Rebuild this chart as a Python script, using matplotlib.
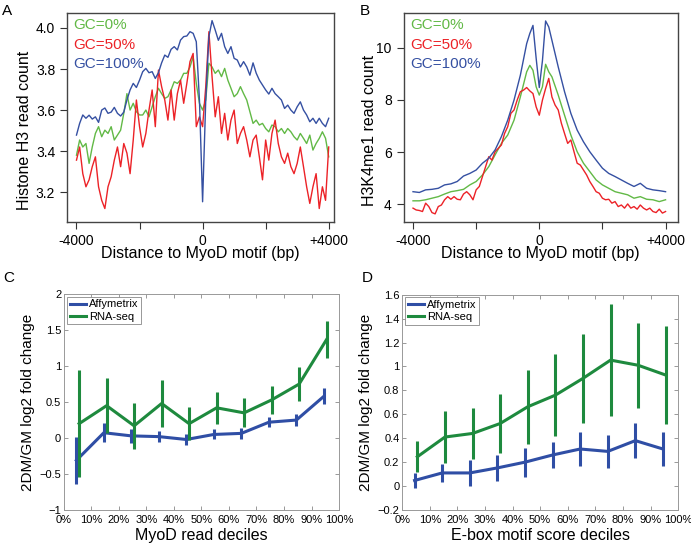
import numpy as np
import matplotlib
matplotlib.use("Agg")
import matplotlib.pyplot as plt

plt.rcParams["font.family"] = ["Liberation Sans", "DejaVu Sans"]

# ---- panel A: histone H3 profile around MyoD motif (bp, 100 bp steps) ----
pos_a = np.arange(-4000, 4001, 100)
h3_gc0 = [3.38, 3.454, 3.42, 3.437, 3.34, 3.42, 3.486, 3.519, 3.47, 3.502, 3.486, 3.519, 3.454, 3.478,
          3.502, 3.584, 3.68, 3.6, 3.633, 3.592, 3.576, 3.576, 3.6, 3.567, 3.616, 3.665, 3.706, 3.68,
          3.657, 3.665, 3.698, 3.738, 3.73, 3.746, 3.779, 3.779, 3.81, 3.86,
          3.73, 3.633, 3.6, 3.649, 3.828, 3.81,
          3.779, 3.795, 3.763, 3.803, 3.746, 3.706, 3.665, 3.68, 3.714, 3.68, 3.649, 3.592, 3.535,
          3.551, 3.527, 3.535, 3.51, 3.494, 3.527, 3.519, 3.494, 3.51, 3.486, 3.51, 3.494, 3.47,
          3.454, 3.486, 3.462, 3.437, 3.478, 3.405, 3.437, 3.462, 3.494, 3.462, 3.372]
h3_gc50 = [3.356, 3.42, 3.29, 3.226, 3.26, 3.324, 3.372, 3.226, 3.16, 3.12, 3.226, 3.275, 3.356, 3.42,
           3.324, 3.437, 3.39, 3.29, 3.454, 3.649, 3.519, 3.42, 3.486, 3.6, 3.698, 3.519, 3.795, 3.714,
           3.649, 3.551, 3.698, 3.551, 3.68, 3.746, 3.633, 3.73, 3.836, 3.876,
           3.519, 3.567, 3.519, 3.714, 3.982, 3.763,
           3.567, 3.665, 3.486, 3.584, 3.454, 3.551, 3.6, 3.437, 3.486, 3.519, 3.454, 3.372, 3.454,
           3.478, 3.372, 3.26, 3.454, 3.356, 3.486, 3.551, 3.437, 3.372, 3.34, 3.39, 3.324, 3.29,
           3.34, 3.42, 3.324, 3.226, 3.145, 3.226, 3.29, 3.12, 3.226, 3.16, 3.42]
h3_gc100 = [3.478, 3.535, 3.576, 3.56, 3.575, 3.556, 3.567, 3.54, 3.60, 3.61, 3.584, 3.59, 3.613, 3.584,
            3.571, 3.59, 3.649, 3.698, 3.73, 3.71, 3.746, 3.787, 3.803, 3.782, 3.787, 3.754, 3.782,
            3.83, 3.868, 3.857, 3.896, 3.909, 3.893, 3.941, 3.958, 3.961, 3.982, 3.974,
            3.933, 3.649, 3.153, 3.649, 3.958, 4.036,
            3.99, 3.94, 3.974, 3.909, 3.876, 3.909, 3.852, 3.844, 3.81, 3.836, 3.81, 3.77, 3.83,
            3.78, 3.746, 3.722, 3.698, 3.678, 3.706, 3.68, 3.665, 3.649, 3.608, 3.624, 3.6, 3.584,
            3.616, 3.64, 3.6, 3.576, 3.543, 3.56, 3.535, 3.56, 3.535, 3.519, 3.56]

# ---- panel B: H3K4me1 profile ----
pos_b = [-4000, -3800, -3600, -3400, -3200, -3000, -2800, -2600, -2400, -2200, -2000, -1800, -1600,
         -1400, -1200, -1000, -800, -600, -400, -300, -200, -100, 0, 100, 200, 300, 400, 600, 800,
         1000, 1200, 1400, 1600, 1800, 2000, 2200, 2400, 2600, 2800, 3000, 3200, 3400, 3600, 3800, 4000]
k4_gc0 = [4.13, 4.13, 4.17, 4.23, 4.29, 4.39, 4.48, 4.52, 4.57, 4.74, 4.87, 5.12, 5.44, 5.89, 6.33,
          6.65, 7.22, 8.11, 9.07, 9.32, 9.13, 8.50, 8.18, 8.50, 9.36, 9.07, 8.88, 8.18, 7.41, 6.65,
          6.01, 5.57, 5.25, 4.93, 4.74, 4.61, 4.48, 4.42, 4.36, 4.23, 4.29, 4.19, 4.17, 4.10, 4.17]
k4_gc100 = [4.48, 4.45, 4.55, 4.57, 4.61, 4.74, 4.78, 4.87, 5.08, 5.18, 5.31, 5.57, 5.76, 6.08, 6.59,
            7.22, 7.99, 8.94, 10.15, 10.54, 10.85, 9.6, 8.47, 9.5, 11.02, 10.79, 10.28, 9.26, 8.31,
            7.48, 6.84, 6.39, 6.01, 5.69, 5.38, 5.18, 5.06, 4.93, 4.80, 4.68, 4.80, 4.61, 4.55, 4.52, 4.48]
pos_b_red = np.arange(-4000, 4001, 100)
k4_gc50 = [3.85, 3.78, 3.76, 3.72, 4.04, 3.91, 3.68, 3.63, 3.91, 3.97, 4.17, 4.29, 4.19, 4.29, 4.19,
           4.17, 4.39, 4.48, 4.36, 4.17, 4.55, 4.68, 5.06, 5.44, 5.82, 5.69, 6.01, 6.14, 6.27, 6.71,
           6.97, 7.48, 7.61, 7.99, 8.31, 8.37, 8.47, 8.34, 8.24, 7.73,
           7.41,
           7.99, 8.43, 8.82, 8.11, 7.80, 7.61, 7.10, 6.71, 6.33, 6.46, 6.01, 5.57, 5.50, 5.31, 5.12,
           4.87, 4.68, 4.48, 4.42, 4.23, 4.17, 4.19, 4.04, 4.10, 3.91, 3.97, 3.85, 4.01, 3.85, 3.91,
           3.81, 3.97, 3.85, 3.78, 3.85, 3.72, 3.68, 3.81, 3.66, 3.72]

gc_labels = ["GC=0%", "GC=50%", "GC=100%"]
gc_colors = ["#62b946", "#ec2227", "#3550a2"]

# ---- panels C and D: expression change by decile ----
deciles = np.arange(5, 100, 10)
c_affy = [-0.31, 0.074, 0.03, 0.02, -0.02, 0.05, 0.065, 0.22, 0.25, 0.58]
c_affy_err = [0.33, 0.13, 0.10, 0.08, 0.08, 0.07, 0.08, 0.07, 0.08, 0.11]
c_rna = [0.20, 0.45, 0.17, 0.48, 0.20, 0.42, 0.35, 0.53, 0.75, 1.37]
c_rna_err = [0.74, 0.38, 0.32, 0.32, 0.23, 0.22, 0.20, 0.20, 0.24, 0.26]

d_affy = [0.047, 0.11, 0.11, 0.152, 0.20, 0.26, 0.31, 0.29, 0.38, 0.31]
d_affy_err = [0.065, 0.075, 0.11, 0.11, 0.12, 0.11, 0.145, 0.14, 0.145, 0.14]
d_rna = [0.245, 0.41, 0.44, 0.523, 0.663, 0.76, 0.90, 1.053, 1.01, 0.928]
d_rna_err = [0.13, 0.22, 0.21, 0.25, 0.31, 0.345, 0.37, 0.47, 0.355, 0.41]

series_names = ["Affymetrix", "RNA-seq"]
series_colors = ["#2f4ea5", "#1e8a3e"]


def profile_panel(ax, curves, ylabel, yticks, ylim, xlim, ylabel_x):
    for (x, y), name, color in zip(curves, gc_labels, gc_colors):
        ax.plot(x, y, color=color, lw=1.0)
    ax.set_xlim(*xlim)
    ax.set_ylim(*ylim)
    ax.set_xticks([-4000, -2000, 0, 2000, 4000])
    ax.set_xticklabels(["-4000", "", "0", "", "+4000"])
    ax.set_yticks(yticks)
    ax.tick_params(direction="out", length=5, width=0.8, labelsize=10, color="#333333")
    ax.tick_params(axis="x", pad=3)
    for s in ax.spines.values():
        s.set_color("#444444")
        s.set_linewidth(1.0)
    ax.set_xlabel("Distance to MyoD motif (bp)", fontsize=11.5, labelpad=-1)
    ax.set_ylabel(ylabel, fontsize=11.5)
    # R puts the label a bit below the box centre
    ax.yaxis.set_label_coords(ylabel_x, 0.44)
    for i, (name, color) in enumerate(zip(gc_labels, gc_colors)):
        ax.text(0.025, 0.94 - i * 0.093, name, color=color, fontsize=11,
                transform=ax.transAxes, va="center", ha="left")


def decile_panel(ax, affy, affy_err, rna, rna_err, ylim, yticks, ytlabels, xlabel):
    vals = [(affy, affy_err, -0.5), (rna, rna_err, 0.5)]
    for (y, e, off), name, color in zip(vals, series_names, series_colors):
        x = deciles + off
        ax.plot(x, y, color=color, lw=2.2, label=name)
        ax.errorbar(x, y, yerr=e, fmt="none", ecolor=color, elinewidth=2.2, capsize=0)
    ax.set_xlim(0, 100)
    ax.set_ylim(*ylim)
    ax.set_xticks(np.arange(0, 101, 10))
    ax.set_xticklabels([f"{v}%" for v in range(0, 101, 10)])
    ax.set_yticks(yticks)
    ax.set_yticklabels(ytlabels)
    ax.tick_params(direction="in", length=3, width=0.6, labelsize=8, color="#888888",
                   top=True, right=True, pad=2)
    ax.tick_params(axis="x", pad=3.5)
    for s in ax.spines.values():
        s.set_color("#999999")
        s.set_linewidth(0.7)
    ax.set_xlabel(xlabel, fontsize=11.5, labelpad=2)
    ax.set_ylabel("2DM/GM log2 fold change", fontsize=11, labelpad=3)
    leg = ax.legend(loc="upper left", bbox_to_anchor=(0.012, 0.988), borderaxespad=0,
                    fontsize=8, handlelength=1.45, handletextpad=0.25, labelspacing=0.2,
                    borderpad=0.25, fancybox=False, framealpha=1)
    leg.get_frame().set_edgecolor("#888888")
    leg.get_frame().set_linewidth(0.6)


fig = plt.figure(figsize=(6.91, 5.48), dpi=100)
ax_a = fig.add_axes([0.097, 0.594, 0.386, 0.383])
ax_b = fig.add_axes([0.584, 0.594, 0.397, 0.383])
ax_c = fig.add_axes([0.0926, 0.0693, 0.398, 0.394])
ax_d = fig.add_axes([0.582, 0.0693, 0.3994, 0.393])

profile_panel(ax_a, [(pos_a, h3_gc0), (pos_a, h3_gc50), (pos_a, h3_gc100)],
              "Histone H3 read count", [3.2, 3.4, 3.6, 3.8, 4.0], (3.052, 4.075), (-4300, 4160), -0.132)
ax_a.set_yticklabels(["3.2", "3.4", "3.6", "3.8", "4.0"])
profile_panel(ax_b, [(pos_b, k4_gc0), (pos_b_red, k4_gc50), (pos_b, k4_gc100)],
              "H3K4me1 read count", [4, 6, 8, 10], (3.30, 11.34), (-4300, 4390), -0.096)

decile_panel(ax_c, c_affy, c_affy_err, c_rna, c_rna_err, (-1, 2),
             [-1, -0.5, 0, 0.5, 1, 1.5, 2], ["\u22121", "\u22120.5", "0", "0.5", "1", "1.5", "2"],
             "MyoD read deciles")
decile_panel(ax_d, d_affy, d_affy_err, d_rna, d_rna_err, (-0.2, 1.6),
             np.arange(-0.2, 1.61, 0.2),
             ["\u22120.2", "0", "0.2", "0.4", "0.6", "0.8", "1", "1.2", "1.4", "1.6"],
             "E-box motif score deciles")

for letter, (x, y) in zip("ABCD", [(0.003, 0.9936), (0.521, 0.9936), (0.004, 0.5046), (0.524, 0.5046)]):
    fig.text(x, y, letter, fontsize=11, va="top", ha="left")

fig.savefig("out.png", dpi=100)
